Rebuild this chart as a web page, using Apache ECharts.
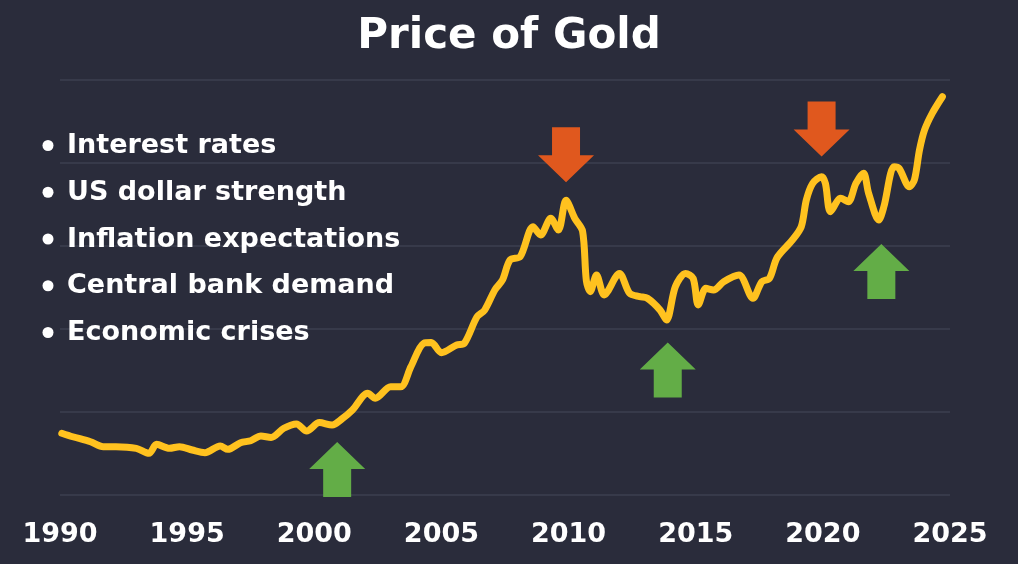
<!DOCTYPE html>
<html>
<head>
<meta charset="utf-8">
<title>Price of Gold</title>
<script src="https://cdn.jsdelivr.net/npm/echarts@6/dist/echarts.min.js"></script>
<style>
  html, body { margin: 0; padding: 0; background: #2a2c3b; }
  #chart { width: 1018px; height: 564px; }
</style>
</head>
<body>
<div id="chart"></div>
<script>
// 年份（横轴）与价格（纵轴）
let years = [1990.07, 1990.5, 1991.2, 1991.7, 1992.2, 1993.0, 1993.5, 1993.8, 1994.3, 1994.7,
  1995.2, 1995.7, 1996.3, 1996.6, 1997.1, 1997.5, 1997.9, 1998.3, 1998.8, 1999.3,
  1999.7, 2000.2, 2000.7, 2001.1, 2001.5, 2002.1, 2002.4, 2003.0, 2003.4, 2003.8,
  2004.3, 2004.6, 2005.0, 2005.6, 2005.9, 2006.4, 2006.7, 2007.1, 2007.4, 2007.7,
  2008.1, 2008.6, 2008.9, 2009.3, 2009.6, 2009.9, 2010.25, 2010.55, 2010.7, 2010.85,
  2011.1, 2011.4, 2012.0, 2012.4, 2012.8, 2013.1, 2013.6, 2013.85, 2014.2, 2014.6,
  2014.9, 2015.1, 2015.4, 2015.7, 2016.1, 2016.7, 2017.25, 2017.6, 2017.9, 2018.2,
  2018.8, 2019.15, 2019.35, 2019.6, 2019.95, 2020.1, 2020.3, 2020.7, 2021.0, 2021.3,
  2021.6, 2021.8, 2022.2, 2022.4, 2022.8, 2023.0, 2023.4, 2023.6, 2023.8, 2024.0,
  2024.3, 2024.7];
let prices = [372, 351, 321, 291, 291, 281, 251, 305, 281, 291,
  271, 255, 295, 275, 315, 327, 355, 347, 402, 428,
  385, 436, 422, 460, 512, 613, 583, 652, 652, 773,
  914, 918, 857, 904, 914, 1074, 1114, 1235, 1295, 1416,
  1436, 1616, 1566, 1667, 1596, 1775, 1665, 1590, 1290, 1225,
  1325, 1205, 1335, 1215, 1195, 1185, 1114, 1054, 1255, 1335,
  1305, 1145, 1245, 1235, 1285, 1325, 1185, 1285, 1305, 1430,
  1536, 1616, 1777, 1877, 1917, 1877, 1707, 1787, 1767, 1877,
  1938, 1817, 1657, 1737, 1978, 1968, 1857, 1898, 2078, 2199,
  2299, 2399];
/**箭头位置 [年份, 价格] */
let downArrows = [[2009.9, 2050], [2019.95, 2205]];
let upArrows = [[2000.9, 154], [2013.9, 753], [2022.3, 1346]];
/**左侧要点 */
let factors = ['Interest rates', 'US dollar strength', 'Inflation expectations', 'Central bank demand', 'Economic crises'];

let chartDom = document.getElementById('chart');
let chartIns = echarts.init(chartDom, null, { renderer: 'canvas' });

let fontFamily = '"DejaVu Sans", sans-serif';
let downPath = 'path://M14,0L42,0L42,28L56,28L28,55L0,28L14,28Z';
let upPath = 'path://M28,0L56,27L42,27L42,55L14,55L14,27L0,27Z';

/**要点文字与圆点 */
let factorGraphics = [];
factors.forEach((item, index) => {
  let y = 146 + index * 46.75;
  factorGraphics.push({
    type: 'circle',
    z: 100,
    shape: { cx: 48, cy: y - 0.5, r: 5.5 },
    style: { fill: '#ffffff' }
  });
  factorGraphics.push({
    type: 'text',
    z: 100,
    x: 67,
    y: y,
    style: {
      text: item,
      fill: '#ffffff',
      font: 'bold 27px ' + fontFamily,
      verticalAlign: 'middle',
      align: 'left'
    }
  });
});

let option = {
  backgroundColor: '#2a2c3b',
  animation: false,
  title: {
    text: 'Price of Gold',
    left: 'center',
    top: 11,
    textStyle: {
      color: '#ffffff',
      fontFamily: fontFamily,
      fontWeight: 'bold',
      fontSize: 42
    }
  },
  grid: { left: 60, right: 68, top: 80, bottom: 69 },
  xAxis: {
    type: 'value',
    min: 1990,
    max: 2025,
    interval: 5,
    axisLine: { show: false },
    axisTick: { show: false },
    splitLine: { show: false },
    axisLabel: {
      color: '#ffffff',
      fontFamily: fontFamily,
      fontWeight: 'bold',
      fontSize: 27,
      margin: 26,
      showMinLabel: true,
      showMaxLabel: true,
      formatter: function (v) { return String(v); }
    }
  },
  yAxis: {
    type: 'value',
    min: 0,
    max: 2500,
    interval: 500,
    axisLine: { show: false },
    axisTick: { show: false },
    axisLabel: { show: false },
    splitLine: { lineStyle: { color: '#3d3f50', width: 1.5 } }
  },
  graphic: factorGraphics,
  series: [
    {
      name: 'Gold',
      type: 'line',
      data: years.map((y, i) => [y, prices[i]]),
      smooth: 0.3,
      showSymbol: false,
      lineStyle: { color: '#ffc21f', width: 7, cap: 'round', join: 'round' },
      z: 3
    },
    {
      name: 'down',
      type: 'scatter',
      data: downArrows,
      symbol: downPath,
      symbolSize: [56, 55],
      itemStyle: { color: '#e0581e', opacity: 1 },
      silent: true,
      z: 2
    },
    {
      name: 'up',
      type: 'scatter',
      data: upArrows,
      symbol: upPath,
      symbolSize: [56, 55],
      itemStyle: { color: '#63ad47', opacity: 1 },
      silent: true,
      z: 2
    }
  ]
};
chartIns.setOption(option);
window.onresize = function () { chartIns.resize(); };
</script>
</body>
</html>
